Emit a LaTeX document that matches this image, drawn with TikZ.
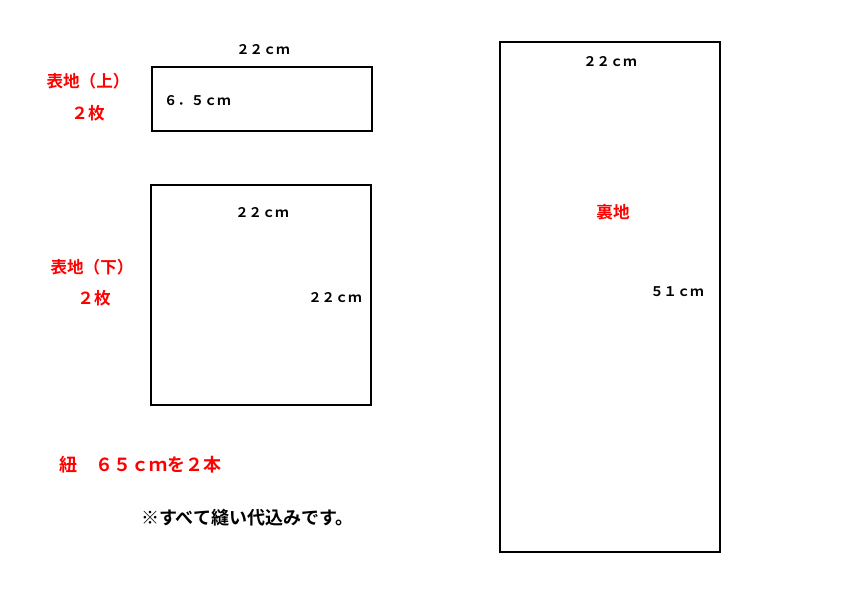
\documentclass[tikz,border=0pt]{standalone}
\usepackage{fontspec}
\newfontfamily\jp{Noto Sans CJK JP Bold}
\begin{document}
\begin{tikzpicture}[x=1pt,y=-1pt,
  box/.style={draw=black,line width=1.6pt},
  dim/.style={font=\jp\fontsize{13.3}{13.3}\selectfont,inner sep=0pt},
  lbl/.style={font=\jp\fontsize{16.6}{16.6}\selectfont,text=red,inner sep=0pt},
  big/.style={font=\jp\fontsize{18}{18}\selectfont,inner sep=0pt}]
\useasboundingbox (0,0) rectangle (842,595);
\draw[box] (152,67) rectangle (372,131);
\draw[box] (151,185) rectangle (371,405);
\draw[box] (500,42) rectangle (720,552);
\node[dim] (a1) at (263,50) {２２ｃｍ};
\node[dim,anchor=west] (a2) at (164,101) {６．５ｃｍ};
\node[lbl] (l1) at (88,81) {表地（上）};
\node[lbl] (l2) at (88,113) {２枚};
\node[dim] (b1) at (262,213) {２２ｃｍ};
\node[dim] (b2) at (335,298) {２２ｃｍ};
\node[lbl] (l3) at (92,267) {表地（下）};
\node[lbl] (l4) at (94,298) {２枚};
\node[dim] (c1) at (610,62) {２２ｃｍ};
\node[lbl] (l5) at (613,212) {裏地};
\node[dim] (c2) at (677,292) {５１ｃｍ};
\node[big,text=red,anchor=west] (l6) at (59,465) {紐　６５ｃｍを２本};
\node[big,anchor=west] (n1) at (141,518) {※すべて縫い代込みです。};
\end{tikzpicture}
\end{document}
